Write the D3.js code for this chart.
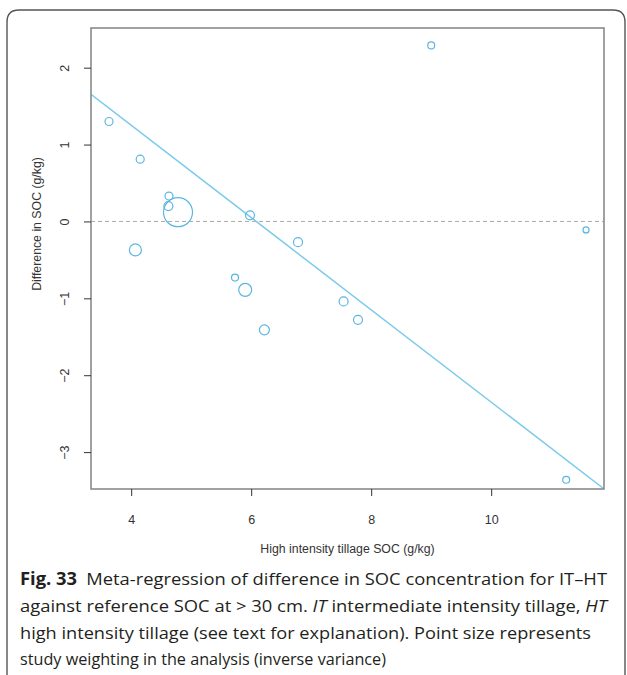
<!DOCTYPE html>
<head>
    <meta charset="UTF-8">
    <title>Fig. 33</title>
    <style>
        body { margin: 0; background: #fff; }
        svg { display: block; }
    </style>
</head>
<body>
    <script src="https://d3js.org/d3.v7.min.js"></script>
    <script>
        // high intensity tillage SOC (g/kg), one entry per study
        var socHT = [3.63, 4.15, 4.63, 4.62, 4.78, 4.07, 5.98, 5.73, 5.90, 6.22, 6.78, 7.54, 7.78, 9.00, 11.58, 11.25]
        // difference in SOC (g/kg), IT - HT
        var socDiff = [1.30, 0.81, 0.33, 0.20, 0.12, -0.37, 0.08, -0.73, -0.89, -1.41, -0.27, -1.04, -1.28, 2.29, -0.11, -3.36]
        // study weights (inverse variance, relative)
        var weights = [7.6, 7.6, 7.6, 9.6, 100, 17.1, 9.6, 5.8, 20.1, 11.9, 9.6, 9.6, 9.6, 5.8, 4.3, 5.8]
        // fitted meta-regression line: diff = a + b * soc
        var fitA = 3.65
        var fitB = -0.60

        var xTicks = [4, 6, 8, 10]
        var yTicks = [-3, -2, -1, 0, 1, 2]

        var width = 627
        var height = 675
        var plot = { left: 91, right: 604, top: 28, bottom: 489 } // 繪圖區

        var svg = d3.select("body")
            .append("svg")
            .attr("width", width)
            .attr("height", height)

        // outer frame, rounded at the top corners
        svg.append("path")
            .attr("d", "M7,690 L7,22 Q7,10 19,10 L613,10 Q625,10 625,22 L625,690")
            .attr("fill", "none")
            .attr("stroke", "#555")
            .attr("stroke-width", 1.4)

        var x = d3.scaleLinear().domain([3.33, 11.88]).range([plot.left, plot.right])
        var y = d3.scaleLinear().domain([-3.48, 2.516]).range([plot.bottom, plot.top])
        var r = d3.scaleSqrt().domain([0, d3.max(weights)]).range([0, 14.5])

        var points = socHT.map(function(d, i){
            return { x: d, y: socDiff[i], w: weights[i] }
        })

        svg.append("clipPath").attr("id", "plotclip")
            .append("rect")
            .attr("x", plot.left).attr("y", plot.top)
            .attr("width", plot.right - plot.left)
            .attr("height", plot.bottom - plot.top)

        // zero reference
        svg.append("line")
            .attr("x1", plot.left).attr("x2", plot.right)
            .attr("y1", y(0)).attr("y2", y(0))
            .attr("stroke", "#aaa")
            .attr("stroke-width", 1)
            .attr("stroke-dasharray", "4,3")

        // regression line
        var xd = x.domain()
        svg.append("line")
            .attr("clip-path", "url(#plotclip)")
            .attr("x1", x(xd[0])).attr("y1", y(fitA + fitB * xd[0]))
            .attr("x2", x(xd[1])).attr("y2", y(fitA + fitB * xd[1]))
            .attr("stroke", "#7ccbea")
            .attr("stroke-width", 1.5)

        // studies
        svg.selectAll("circle.pt").data(points).enter()
            .append("circle")
            .attr("class", "pt")
            .attr("cx", function(d){ return x(d.x) })
            .attr("cy", function(d){ return y(d.y) })
            .attr("r", function(d){ return r(d.w) })
            .attr("fill", "none")
            .attr("stroke", "#5cb6e2")
            .attr("stroke-width", 1.2)

        // plot box
        svg.append("rect")
            .attr("x", plot.left).attr("y", plot.top)
            .attr("width", plot.right - plot.left)
            .attr("height", plot.bottom - plot.top)
            .attr("fill", "none")
            .attr("stroke", "#8a8a8a")
            .attr("stroke-width", 1.6)

        // axes
        var xAxis = svg.append("g")
            .attr("transform", "translate(0," + plot.bottom + ")")
            .call(d3.axisBottom(x).tickValues(xTicks).tickSize(7).tickPadding(19).tickFormat(d3.format("d")))
        var yAxis = svg.append("g")
            .attr("transform", "translate(" + plot.left + ",0)")
            .call(d3.axisLeft(y).tickValues(yTicks).tickSize(7).tickPadding(10).tickFormat(d3.format("d")))

        ;[xAxis, yAxis].forEach(function(g){
            g.select(".domain").remove()
            g.selectAll(".tick line").attr("stroke", "#333")
            g.selectAll("text")
                .attr("fill", "#333")
                .style("font-family", "'Liberation Sans', Arial, sans-serif")
                .style("font-size", "12.5px")
        })

        // R-style vertical y tick labels
        yAxis.selectAll(".tick text")
            .attr("x", null)
            .attr("text-anchor", "middle")
            .attr("transform", "translate(-26,0) rotate(-90)")
            .attr("dy", "0.32em")

        svg.append("text")
            .attr("x", (plot.left + plot.right) / 2)
            .attr("y", 553)
            .attr("text-anchor", "middle")
            .attr("fill", "#333")
            .style("font-family", "'Liberation Sans', Arial, sans-serif")
            .style("font-size", "12.3px")
            .text("High intensity tillage SOC (g/kg)")

        svg.append("text")
            .attr("transform", "translate(41,224) rotate(-90)")
            .attr("text-anchor", "middle")
            .attr("fill", "#333")
            .style("font-family", "'Liberation Sans', Arial, sans-serif")
            .style("font-size", "12.3px")
            .text("Difference in SOC (g/kg)")

        // caption
        var capFont = "'Open Sans', 'Noto Sans', sans-serif"
        var cap = svg.append("g")
            .style("font-family", capFont)
            .style("font-size", "17px")
            .attr("fill", "#231f20")

        var line1 = cap.append("text").attr("x", 20).attr("y", 585)
            .attr("textLength", 587).attr("lengthAdjust", "spacingAndGlyphs")
        line1.append("tspan").style("font-weight", "bold").text("Fig. 33")
        line1.append("tspan").text("\u2002Meta-regression of difference in SOC concentration for IT\u2013HT")

        var line2 = cap.append("text").attr("x", 20).attr("y", 612)
            .attr("textLength", 587).attr("lengthAdjust", "spacingAndGlyphs")
        line2.append("tspan").text("against reference SOC at > 30 cm. ")
        line2.append("tspan").style("font-style", "italic").text("IT")
        line2.append("tspan").text(" intermediate intensity tillage, ")
        line2.append("tspan").style("font-style", "italic").text("HT")

        cap.append("text").attr("x", 20).attr("y", 639)
            .attr("textLength", 571).attr("lengthAdjust", "spacingAndGlyphs")
            .text("high intensity tillage (see text for explanation). Point size represents")

        cap.append("text").attr("x", 20).attr("y", 665)
            .attr("textLength", 366).attr("lengthAdjust", "spacingAndGlyphs")
            .text("study weighting in the analysis (inverse variance)")
    </script>
</body>
</html>
